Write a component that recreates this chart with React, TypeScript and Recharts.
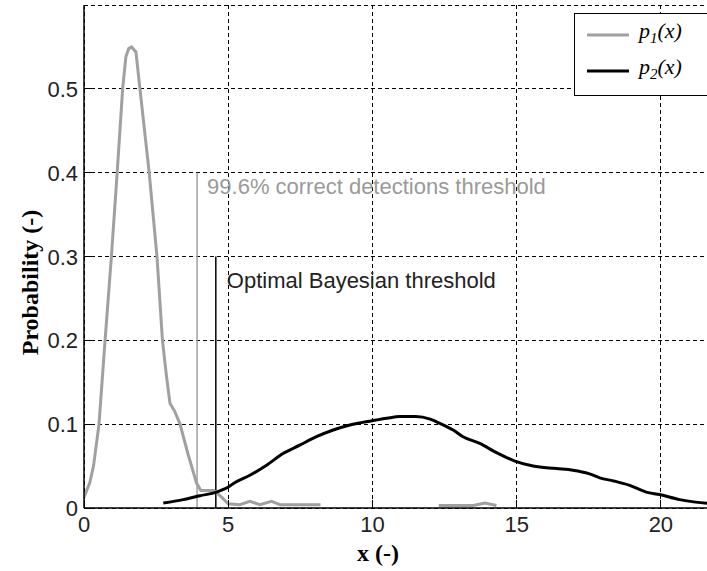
import React from 'react';
import { LineChart, Line, XAxis, YAxis, CartesianGrid, ReferenceLine, Legend } from 'recharts';

// p1(x): distribution of the first class (gray)
const p1X = [0, 0.2, 0.33, 0.52, 0.73, 0.95, 1.15, 1.34, 1.45, 1.55, 1.65, 1.8, 1.94, 2.26, 2.53, 2.72, 2.85, 2.98, 3.15, 3.33, 3.6, 3.9, 4.05, 4.3, 4.5, 4.77, 5.0, 5.4, 5.75, 6.1, 6.5, 6.8, 7.5, 8.2, 10, 12.3, 13.5, 13.9, 14.3];
const p1Y: (number | null)[] = [0.013, 0.03, 0.05, 0.1, 0.2, 0.3, 0.4, 0.5, 0.538, 0.548, 0.55, 0.544, 0.5, 0.4, 0.3, 0.2, 0.16, 0.125, 0.115, 0.1, 0.065, 0.03, 0.021, 0.021, 0.021, 0.013, 0.005, 0.004, 0.008, 0.004, 0.008, 0.004, 0.004, 0.004, null, 0.003, 0.003, 0.006, 0.003];

// p2(x): distribution of the second class (black)
const p2X = [2.75, 3.44, 4.02, 4.6, 5.0, 5.17, 5.75, 6.33, 6.9, 7.48, 8.06, 8.64, 9.22, 9.99, 10.5, 10.95, 11.5, 12.0, 12.34, 12.8, 13.14, 13.72, 14.3, 14.94, 15.57, 16.38, 16.95, 17.5, 17.88, 18.4, 18.92, 19.49, 19.96, 20.65, 21.2, 21.8];
const p2Y = [0.006, 0.01, 0.0146, 0.019, 0.025, 0.029, 0.039, 0.051, 0.065, 0.075, 0.085, 0.093, 0.099, 0.104, 0.107, 0.109, 0.109, 0.106, 0.101, 0.093, 0.085, 0.077, 0.066, 0.056, 0.05, 0.047, 0.045, 0.041, 0.036, 0.032, 0.027, 0.019, 0.016, 0.01, 0.007, 0.005];

const xTicks = [0, 5, 10, 15, 20];
const yTicks = [0, 0.1, 0.2, 0.3, 0.4, 0.5];

// Thresholds: position on x and height of the marker line
const correctThresholdX = 3.92;
const correctThresholdTop = 0.4;
const correctThresholdText = '99.6% correct detections threshold';
const bayesThresholdX = 4.57;
const bayesThresholdTop = 0.3;
const bayesThresholdText = 'Optimal Bayesian threshold';

const legendEntries = [
  { base: 'p', sub: '1', tail: '(x)', color: '#a0a0a0' },
  { base: 'p', sub: '2', tail: '(x)', color: '#000000' },
];

const p1Data = p1X.map((x, i) => ({ x, p1: p1Y[i] }));
const p2Data = p2X.map((x, i) => ({ x, p2: p2Y[i] }));

const SANS = '"Liberation Sans", Arial, sans-serif';
const SERIF = '"Liberation Serif", "Times New Roman", serif';
const TICK_LEN = 8;

const BottomTick = (props: any) => {
  const { x, y, payload } = props;
  return (
    <g>
      <line x1={x} x2={x} y1={y} y2={y - TICK_LEN} stroke="#000" strokeWidth={1} shapeRendering="crispEdges" />
      <text x={x} y={y + 24} textAnchor="middle" fontFamily={SANS} fontSize={22} fill="#222">
        {payload.value}
      </text>
    </g>
  );
};

const TopTick = (props: any) => {
  const { x, y } = props;
  return <line x1={x} x2={x} y1={y} y2={y + TICK_LEN} stroke="#000" strokeWidth={1} shapeRendering="crispEdges" />;
};

const LeftTick = (props: any) => {
  const { x, y, payload } = props;
  return (
    <g>
      <line x1={x} x2={x + TICK_LEN} y1={y} y2={y} stroke="#000" strokeWidth={1} shapeRendering="crispEdges" />
      <text x={x - 6} y={y + 8} textAnchor="end" fontFamily={SANS} fontSize={22} fill="#222">
        {payload.value}
      </text>
    </g>
  );
};

const LegendBox = () => (
  <div
    style={{
      width: 150,
      height: 83,
      background: '#fff',
      border: '1px solid #000',
      boxSizing: 'border-box',
    }}
  >
    <svg width={150} height={81} style={{ display: 'block' }}>
      {legendEntries.map((e, i) => {
        const cy = 21 + i * 36;
        return (
          <g key={i}>
            <line x1={12} x2={54} y1={cy} y2={cy} stroke={e.color} strokeWidth={3} />
            <text x={64} y={cy + 3} fontFamily={SERIF} fontStyle="italic" fontSize={22} fill="#000">
              {e.base}
              <tspan fontSize={15} dy={5}>{e.sub}</tspan>
              <tspan dy={-5}>{e.tail}</tspan>
            </text>
          </g>
        );
      })}
    </svg>
  </div>
);

const yAxisLabel = (props: any) => {
  const vb = props.viewBox || { x: 0, y: 0, height: 0 };
  const cx = vb.x + 38;
  const cy = vb.y + vb.height / 2 + 26;
  return (
    <text
      x={cx}
      y={cy}
      transform={`rotate(-90 ${cx} ${cy})`}
      textAnchor="middle"
      fontFamily={SERIF}
      fontWeight="bold"
      fontSize={24}
      fill="#000"
    >
      Probability (-)
    </text>
  );
};

const xAxisLabel = (props: any) => {
  const vb = props.viewBox || { x: 0, y: 0, width: 0 };
  return (
    <text x={378} y={vb.y + 53} textAnchor="middle" fontFamily={SERIF} fontWeight="bold" fontSize={24} fill="#000">
      x (-)
    </text>
  );
};

const thresholdLabel = (text: string, color: string, dx: number, dy: number) => (props: any) => {
  const vb = props.viewBox || { x: 0, y: 0 };
  return (
    <text x={vb.x + dx} y={vb.y + dy} fontFamily={SANS} fontSize={22} fill={color}>
      {text}
    </text>
  );
};

export default function App() {
  return (
    <div style={{ position: 'absolute', left: 0, top: 0, width: 707, height: 571, overflow: 'hidden', background: '#fff' }}>
      <LineChart width={720} height={571} margin={{ top: 5, right: 0, bottom: 0, left: 0 }}>
        <CartesianGrid
          xAxisId="bottom"
          stroke="#000"
          strokeDasharray="4 3"
          strokeWidth={1}
          shapeRendering="crispEdges"
        />
        <XAxis
          xAxisId="bottom"
          type="number"
          dataKey="x"
          domain={[0, 22.05]}
          ticks={xTicks}
          allowDataOverflow
          height={63}
          tickSize={0}
          tickMargin={0}
          tickLine={false}
          tick={<BottomTick />}
          axisLine={{ stroke: '#000', strokeWidth: 1.5 }}
          label={xAxisLabel}
        />
        <XAxis
          xAxisId="top"
          orientation="top"
          type="number"
          dataKey="x"
          domain={[0, 22.05]}
          ticks={xTicks}
          allowDataOverflow
          height={0}
          tickSize={0}
          tickMargin={0}
          tickLine={false}
          tick={<TopTick />}
          axisLine={{ stroke: '#000', strokeWidth: 1.5 }}
        />
        <YAxis
          type="number"
          domain={[0, 0.6]}
          ticks={yTicks}
          allowDataOverflow
          width={84}
          tickSize={0}
          tickMargin={0}
          tickLine={false}
          tick={<LeftTick />}
          axisLine={{ stroke: '#000', strokeWidth: 1.5 }}
          label={yAxisLabel}
        />
        <ReferenceLine
          xAxisId="bottom"
          segment={[
            { x: correctThresholdX, y: 0 },
            { x: correctThresholdX, y: correctThresholdTop },
          ]}
          stroke="#a0a0a0"
          strokeWidth={1.5}
          label={thresholdLabel(correctThresholdText, '#9a9a9a', 10, 21)}
        />
        <ReferenceLine
          xAxisId="bottom"
          segment={[
            { x: bayesThresholdX, y: 0 },
            { x: bayesThresholdX, y: bayesThresholdTop },
          ]}
          stroke="#000"
          strokeWidth={1.5}
          label={thresholdLabel(bayesThresholdText, '#222', 11, 31)}
        />
        <Line
          xAxisId="bottom"
          data={p1Data}
          dataKey="p1"
          name="p1(x)"
          type="linear"
          stroke="#a0a0a0"
          strokeWidth={3}
          dot={false}
          isAnimationActive={false}
        />
        <Line
          xAxisId="bottom"
          data={p2Data}
          dataKey="p2"
          name="p2(x)"
          type="monotone"
          stroke="#000"
          strokeWidth={3}
          dot={false}
          isAnimationActive={false}
        />
        <Legend
          layout="horizontal"
          verticalAlign="middle"
          align="center"
          content={() => <LegendBox />}
          wrapperStyle={{ position: 'absolute', left: 574, top: 13, width: 150, height: 83 }}
        />
      </LineChart>
    </div>
  );
}
